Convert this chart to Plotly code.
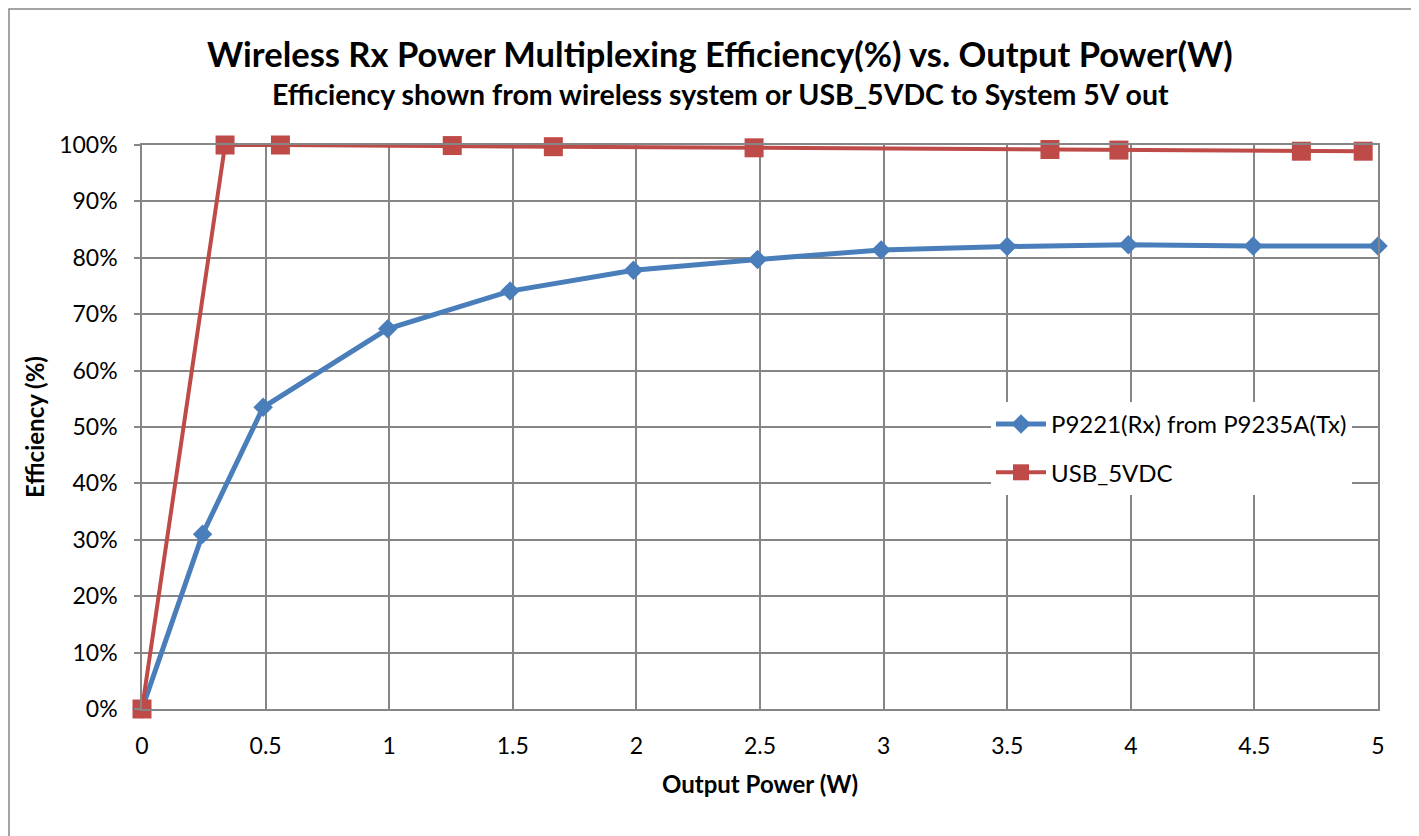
import plotly.graph_objects as go

# Data
rx_power = [0, 0.245, 0.49, 0.994, 1.489, 1.988, 2.49, 2.99, 3.5, 3.99, 4.495, 5.0]
rx_eff = [0, 31.0, 53.5, 67.4, 74.1, 77.8, 79.7, 81.4, 82.0, 82.3, 82.1, 82.1]

usb_power = [0, 0.336, 0.56, 1.255, 1.664, 2.476, 3.673, 3.952, 4.69, 4.94]
usb_eff = [0, 100.0, 100.0, 99.9, 99.7, 99.5, 99.2, 99.1, 98.9, 98.9]

x_ticks = [0, 0.5, 1, 1.5, 2, 2.5, 3, 3.5, 4, 4.5, 5]
x_tick_text = ["0", "0.5", "1", "1.5", "2", "2.5", "3", "3.5", "4", "4.5", "5"]
y_ticks = [0, 10, 20, 30, 40, 50, 60, 70, 80, 90, 100]
y_tick_text = ["0%", "10%", "20%", "30%", "40%", "50%", "60%", "70%", "80%", "90%", "100%"]

FONT = "Lato, 'Open Sans', sans-serif"
BLUE = "#4A7EBB"
RED = "#BE4B48"
GRID = "#868686"

fig = go.Figure()
fig.add_trace(go.Scatter(
    x=rx_power, y=rx_eff, mode="lines+markers", name="P9221(Rx) from P9235A(Tx)",
    legendgroup="a",
    line=dict(color=BLUE, width=5),
    marker=dict(symbol="diamond", size=15, color=BLUE),
    cliponaxis=False,
))
fig.add_trace(go.Scatter(
    x=usb_power, y=usb_eff, mode="lines+markers", name="USB_5VDC",
    legendgroup="b",
    line=dict(color=RED, width=4),
    marker=dict(symbol="square", size=19, color=RED),
    cliponaxis=False,
))

# page has an 8px body margin; reference-frame plot area: x 142..1378, y 145..709
OFF = 8
W, H = 1419 - OFF, 836 - OFF
PL, PR, PT, PB = 142, 1378, 145, 709
L, T = PL - OFF, PT - OFF
R = W - (PR - OFF)
B = H - (PB - OFF)
pw, ph = PR - PL, PB - PT

def px(x):
    return (x - PL) / pw

def py(y):
    return (PB - y) / ph

fig.update_layout(
    width=W, height=H,
    margin=dict(l=L, r=R, t=T, b=B, pad=0),
    paper_bgcolor="white", plot_bgcolor="white",
    font=dict(family=FONT, color="black", size=23),
    showlegend=True,
    legend=dict(
        x=px(991), y=py(402), xanchor="left", yanchor="top",
        bgcolor="white", font=dict(size=24, family=FONT),
        tracegroupgap=14, itemwidth=50,
    ),
    xaxis=dict(
        range=[0, 5], tickvals=x_ticks, ticktext=x_tick_text,
        showgrid=True, gridcolor=GRID, gridwidth=1.5,
        showline=True, linecolor=GRID, linewidth=1.5, mirror=True,
        zeroline=False, ticks="", ticklabelstandoff=16,
        tickfont=dict(size=23),
        title=dict(text="<b>Output Power (W)</b>", font=dict(size=24), standoff=18),
    ),
    yaxis=dict(
        range=[0, 100], tickvals=y_ticks, ticktext=y_tick_text,
        showgrid=True, gridcolor=GRID, gridwidth=1.5,
        showline=True, linecolor=GRID, linewidth=1.5, mirror=True,
        zeroline=False, ticks="outside", ticklen=6, tickcolor=GRID, tickwidth=1.5,
        ticklabelstandoff=12,
        tickfont=dict(size=23),
        title=dict(text="<b>Efficiency (%)</b>", font=dict(size=24), standoff=8),
    ),
    annotations=[
        dict(text="<b>Wireless Rx Power Multiplexing Efficiency(%) vs. Output Power(W)</b>",
             x=px(720), y=py(53), xref="paper", yref="paper", showarrow=False,
             xanchor="center", yanchor="middle", font=dict(size=34.5, family=FONT)),
        dict(text="<b>Efficiency shown from wireless system or USB_5VDC to System 5V out</b>",
             x=px(720), y=py(94), xref="paper", yref="paper", showarrow=False,
             xanchor="center", yanchor="middle", font=dict(size=28.5, family=FONT)),
    ],
    shapes=[
        dict(type="rect", xref="paper", yref="paper",
             x0=px(9), x1=px(1460), y0=py(880), y1=py(9),
             line=dict(color="#868686", width=1.5), fillcolor="rgba(0,0,0,0)", layer="below"),
    ],
)

fig.write_html("out.html")
